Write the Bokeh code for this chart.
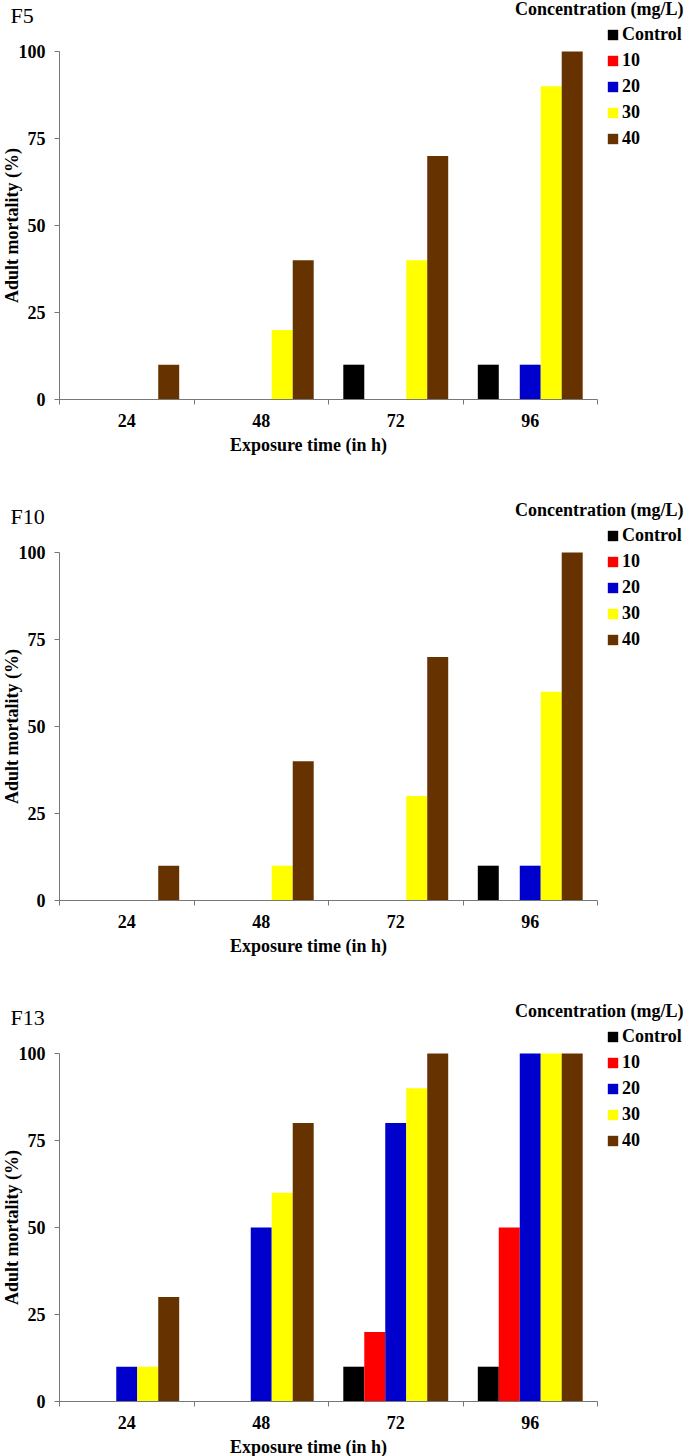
import math
from bokeh.plotting import figure
from bokeh.models import Range1d, FixedTicker, Label, Legend, LegendItem
from bokeh.layouts import column
from bokeh.embed import file_html
from bokeh.resources import INLINE

# ---------------- data ----------------
times = ["24", "48", "72", "96"]
concs = ["Control", "10", "20", "30", "40"]
colors = ["#000000", "#FF0000", "#0000CC", "#FFFF00", "#663300"]

f5_control = [0, 0, 10, 10]
f5_c10 = [0, 0, 0, 0]
f5_c20 = [0, 0, 0, 10]
f5_c30 = [0, 20, 40, 90]
f5_c40 = [10, 40, 70, 100]

f10_control = [0, 0, 0, 10]
f10_c10 = [0, 0, 0, 0]
f10_c20 = [0, 0, 0, 10]
f10_c30 = [0, 10, 30, 60]
f10_c40 = [10, 40, 70, 100]

f13_control = [0, 0, 10, 10]
f13_c10 = [0, 0, 20, 50]
f13_c20 = [10, 50, 80, 100]
f13_c30 = [10, 60, 90, 100]
f13_c40 = [30, 80, 100, 100]

y_ticks = [0, 25, 50, 75, 100]
panel_titles = ["F5", "F10", "F13"]
panel_series = [
    [f5_control, f5_c10, f5_c20, f5_c30, f5_c40],
    [f10_control, f10_c10, f10_c20, f10_c30, f10_c40],
    [f13_control, f13_c10, f13_c20, f13_c30, f13_c40],
]
x_title = "Exposure time (in h)"
y_title = "Adult mortality (%)"
legend_title = "Concentration (mg/L)"

# ---------------- layout (pixels inside each panel) ----------------
FONT = "Liberation Serif"
W = 685
HEIGHTS = [501, 501, 454]
AX_L, AX_R = 59, 597      # x-axis line, left/right end
AX_T, AX_B = 51, 399      # y-axis line, top (100) / bottom (0)
BAR_W = 0.156
AXIS_COLOR = "#777777"
NG = len(times)
YMAX = 100
PX_X = (AX_R - AX_L) / NG       # pixels per category
PX_Y = (AX_B - AX_T) / YMAX     # pixels per percent


def X(px):
    return (px - AX_L) / PX_X


def Y(py):
    return (AX_B - py) / PX_Y


def label(x, y, text, size, style="bold", align="center", angle=0.0):
    return Label(x=X(x), y=Y(y), text=text, angle=angle,
                 text_font=FONT, text_font_size=size, text_font_style=style,
                 text_align=align, text_baseline="middle", text_color="black")


def make_panel(title, series, height):
    p = figure(width=W, height=height,
               x_range=Range1d(X(0), X(W)), y_range=Range1d(Y(height), Y(0)),
               output_backend="svg", toolbar_location=None,
               min_border=0, min_border_left=0, min_border_right=0,
               min_border_top=0, min_border_bottom=0)
    p.xgrid.visible = False
    p.ygrid.visible = False
    p.outline_line_color = None
    p.background_fill_color = "white"
    p.border_fill_color = "white"

    items = []
    for j, (name, vals, col) in enumerate(zip(concs, series, colors)):
        xs = [i + 0.5 + (j - 2) * BAR_W for i in range(NG)]
        r = p.vbar(x=xs, top=vals, bottom=0, width=BAR_W, fill_color=col, line_color=None)
        items.append(LegendItem(label=name, renderers=[r]))

    # x axis
    xa = p.xaxis[0]
    xa.fixed_location = 0
    xa.bounds = (0, NG)
    xa.ticker = FixedTicker(ticks=[i + 0.5 for i in range(NG)], minor_ticks=list(range(NG + 1)))
    xa.major_label_overrides = {i + 0.5: t for i, t in enumerate(times)}
    xa.major_tick_line_color = None
    xa.major_tick_out = 5
    xa.major_tick_in = 0
    xa.minor_tick_line_color = AXIS_COLOR
    xa.minor_tick_out = 5
    xa.minor_tick_in = 0
    xa.axis_line_color = AXIS_COLOR
    xa.major_label_standoff = 9
    xa.major_label_text_font = FONT
    xa.major_label_text_font_style = "bold"
    xa.major_label_text_font_size = "18px"
    xa.major_label_text_color = "black"

    # y axis
    ya = p.yaxis[0]
    ya.fixed_location = 0
    ya.bounds = (0, YMAX)
    ya.ticker = FixedTicker(ticks=y_ticks)
    ya.major_tick_line_color = AXIS_COLOR
    ya.major_tick_out = 5
    ya.major_tick_in = 0
    ya.minor_tick_line_color = None
    ya.axis_line_color = AXIS_COLOR
    ya.major_label_standoff = 9
    ya.major_label_text_font = FONT
    ya.major_label_text_font_style = "bold"
    ya.major_label_text_font_size = "18px"
    ya.major_label_text_color = "black"

    # legend
    leg = Legend(items=items, location=(606, height - 151),
                 glyph_width=13, glyph_height=13, label_standoff=3,
                 label_height=26, spacing=0, padding=0, margin=0,
                 border_line_color=None, background_fill_alpha=0,
                 label_text_font=FONT, label_text_font_style="bold",
                 label_text_font_size="18px", label_text_color="black")
    p.add_layout(leg)

    # free texts
    p.add_layout(label(683, 8, legend_title, "18px", align="right"))
    p.add_layout(label(10, 15, title, "22px", style="normal", align="left"))
    p.add_layout(label(308, 444, x_title, "18px"))
    p.add_layout(label(11, (AX_T + AX_B) / 2, y_title, "18px", angle=math.pi / 2))
    return p


figs = [make_panel(t, s, h) for t, s, h in zip(panel_titles, panel_series, HEIGHTS)]
layout = column(*figs, spacing=0)

open("out.html", "w").write(file_html(layout, INLINE))
